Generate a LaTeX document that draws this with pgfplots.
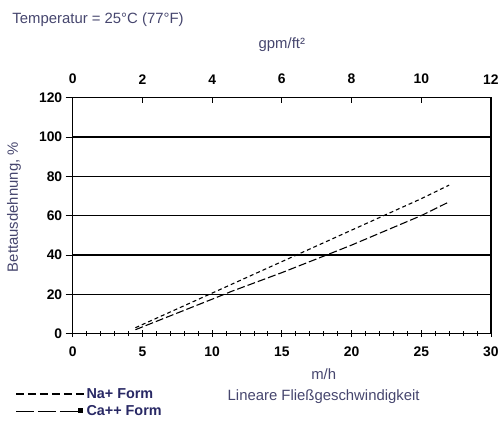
\documentclass[border=0pt]{standalone}
\usepackage{pgfplots}
\pgfplotsset{compat=1.18}
\usepackage{fontspec}
\setmainfont{Liberation Sans}
\definecolor{lab}{RGB}{70,70,110}
\definecolor{leg}{RGB}{40,40,100}
\begin{document}
\begin{tikzpicture}[x=1bp,y=1bp]
\begin{axis}[
  scale only axis, width=420bp, height=237bp, at={(0,0)}, anchor=south west,
  xmin=0, xmax=30, ymin=0, ymax=120,
  xtick={0,5,...,30}, ytick={0,20,...,120}, minor x tick num=4,
  xtick pos=bottom, ytick pos=left,
  xtick align=center, ytick align=outside,
  axis line style={line width=1.6bp},
  ymajorgrids, major grid style={black, line width=1.3bp},
  tick style={black, line width=0.8bp},
  major tick length=7bp, minor tick length=5bp,
  /pgf/number format/assume math mode=true,
  tick label style={font=\bfseries\fontsize{14}{15}\selectfont},
  xticklabel style={yshift=-6bp},
  xlabel={m/h\\Lineare Fließgeschwindigkeit},
  xlabel style={at={(rel axis cs:0.6,-0.135)}, anchor=north, align=center, font=\fontsize{15}{21}\selectfont, text=lab},
  ylabel={Bettausdehnung, \%},
  ylabel style={at={(rel axis cs:-0.14,0.536)}, anchor=center, font=\fontsize{15}{16}\selectfont, text=lab},
  legend style={at={(rel axis cs:-0.145,-0.215)}, anchor=north west, draw=none, fill=none, font=\bfseries\fontsize{14.5}{15}\selectfont, text=leg, row sep=2bp},
  legend cell align=left,
]
\addplot[black, line width=1.1bp, dash pattern=on 4bp off 3bp,
  legend image code/.code={\draw[black, line width=1.6bp, dash pattern=on 8bp off 4bp] (0bp,0bp) -- (68bp,0bp);}]
  coordinates {(4.5,3) (10,20.6) (15,36.6) (20,52.6) (25,68.6) (27,75.5)};
\addlegendentry{Na+ Form}
\addplot[black, line width=1.1bp, dash pattern=on 8bp off 3bp,
  legend image code/.code={\draw[black, line width=1.6bp, dash pattern=on 18bp off 4bp] (0bp,0bp) -- (62bp,0bp); \fill[black] (63bp,-1bp) rectangle (67bp,3bp);}]
  coordinates {(4.5,2) (10,17.5) (11.4,21.5) (15,31) (18.4,40.5) (20,45) (25,60) (27,67)};
\addlegendentry{Ca++ Form}
\end{axis}
\begin{axis}[
  scale only axis, width=420bp, height=237bp, at={(0,0)}, anchor=south west,
  xmin=0, xmax=12, ymin=0, ymax=120,
  axis x line*=top, axis y line=none,
  xtick={0,2,...,12},
  axis line style={line width=1.6bp},
  tick style={black, line width=0.8bp},
  major tick length=5bp, xtick align=inside,
  /pgf/number format/assume math mode=true,
  tick label style={font=\bfseries\fontsize{14}{15}\selectfont},
  xticklabel style={yshift=10bp},
  xlabel={gpm/ft²},
  xlabel style={at={(rel axis cs:0.5,1.225)}, anchor=center, font=\fontsize{15}{16}\selectfont, text=lab},
]
\end{axis}
\node[anchor=west, font=\fontsize{15}{16}\selectfont, text=lab] at (-64,315) {Temperatur = 25°C (77°F)};
\path[use as bounding box] (-73,-86) rectangle (429,335);
\end{tikzpicture}
\end{document}
